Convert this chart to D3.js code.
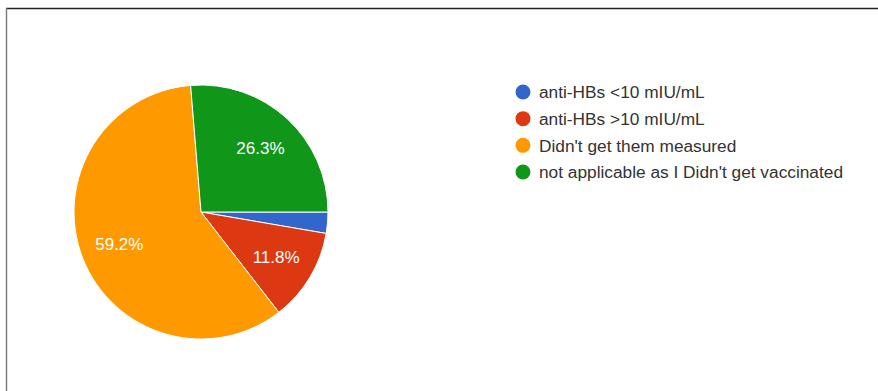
<!DOCTYPE html>
<html>
<head>
<meta charset="utf-8">
<script src="https://cdn.jsdelivr.net/npm/d3@7"></script>
<style>
  html, body { margin: 0; padding: 0; background: #ffffff; }
  svg { display: block; }
</style>
</head>
<body>
<svg id="chart" width="878" height="391"></svg>
<script>
// Survey answers on measured anti-HBs levels
const categories = [
  "anti-HBs <10 mIU/mL",
  "anti-HBs >10 mIU/mL",
  "Didn't get them measured",
  "not applicable as I Didn't get vaccinated"
];
const shares = [2.7, 11.8, 59.2, 26.3];
const colors = ["#3366cc", "#dc3912", "#ff9900", "#109618"];

const svg = d3.select("#chart");
const W = 878, H = 391;
const font = "'Liberation Sans', Arial, sans-serif";

// frame edges
svg.append("line").attr("x1", 6).attr("x2", W).attr("y1", 8.5).attr("y2", 8.5)
  .attr("stroke", "#222").attr("stroke-width", 1.6);
svg.append("line").attr("x1", 6.5).attr("x2", 6.5).attr("y1", 8).attr("y2", H)
  .attr("stroke", "#777").attr("stroke-width", 1.4);

const cx = 201, cy = 212, r = 127;
const data = categories.map((c, i) => ({ name: c, value: shares[i], color: colors[i] }));

const pie = d3.pie().value(d => d.value).sort(null)
  .startAngle(Math.PI / 2).endAngle(Math.PI / 2 + 2 * Math.PI);
const arcs = pie(data);
const arc = d3.arc().innerRadius(0).outerRadius(r);
const labelArc = d3.arc().innerRadius(r * 0.69).outerRadius(r * 0.69);

const g = svg.append("g").attr("transform", `translate(${cx},${cy})`);
g.selectAll("path.slice").data(arcs).join("path")
  .attr("class", "slice")
  .attr("d", arc)
  .attr("fill", d => d.data.color)
  .attr("stroke", "#ffffff")
  .attr("stroke-width", 1);

g.selectAll("text.pct").data(arcs.filter(d => d.data.value >= 5)).join("text")
  .attr("class", "pct")
  .attr("transform", d => `translate(${labelArc.centroid(d)})`)
  .attr("text-anchor", "middle")
  .attr("dy", "0.36em")
  .attr("fill", "#ffffff")
  .attr("font-family", font)
  .attr("font-size", 17)
  .text(d => d.data.value.toFixed(1) + "%");

// legend
const legY = d3.scalePoint().domain(categories).range([92, 172]);
const leg = svg.append("g");
const items = leg.selectAll("g").data(data).join("g")
  .attr("transform", d => `translate(523,${legY(d.name)})`);
items.append("circle").attr("r", 7.5).attr("fill", d => d.color);
items.append("text")
  .attr("x", 16).attr("dy", "0.36em")
  .attr("fill", "#333")
  .attr("font-family", font)
  .attr("font-size", 17.3)
  .text(d => d.name);
</script>
</body>
</html>
